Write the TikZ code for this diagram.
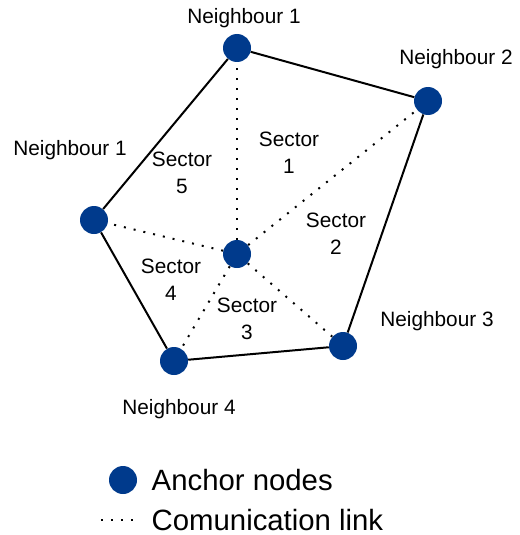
\documentclass[tikz,border=0pt]{standalone}
\usepackage{fontspec}
\setmainfont{Liberation Sans}
\definecolor{bluanodo}{HTML}{003A8C}
\tikzset{
    ancora/.style={circle,fill=bluanodo,minimum size=21pt,inner sep=0pt},
    etichetta/.style={font=\fontsize{15.6}{20}\selectfont,align=center},
    collegamento/.style={line width=1.5pt,dash pattern=on 1.5pt off 6pt},
    lato/.style={line width=1.5pt}
}
\begin{document}
\begin{tikzpicture}[x=0.75pt,y=-0.75pt]
        \useasboundingbox (0,0) rectangle (519,535);

        %%%%%%%%%% Nodi %%%%%%%%%%
        \node[ancora] (c) at (237,254) {};
        \node[ancora] (n1) at (237,48) {};
        \node[ancora] (n2) at (428,101) {};
        \node[ancora] (n3) at (343,346) {};
        \node[ancora] (n4) at (174,361) {};
        \node[ancora] (n5) at (94,220) {};

        %%%%%%%%% Etichette %%%%%%%%%
        \node[etichetta] (l1) at (244,18) {Neighbour 1};
        \node[etichetta] (l2) at (456,59) {Neighbour 2};
        \node[etichetta] (l3) at (437,321) {Neighbour 3};
        \node[etichetta] (l4) at (179,409) {Neighbour 4};
        \node[etichetta] (l5) at (70,150) {Neighbour 1};

        \node[etichetta] (s1) at (289,153) {Sector\\1};
        \node[etichetta] (s2) at (336,234) {Sector\\2};
        \node[etichetta] (s3) at (247,319) {Sector\\3};
        \node[etichetta] (s4) at (171,280) {Sector\\4};
        \node[etichetta] (s5) at (182,173) {Sector\\5};

        %%%%%%%%% Collegamenti %%%%%%%%%
        \foreach \n in {n1,n2,n3,n4,n5}
            \draw[collegamento] (c) -- (\n);

        \draw[lato] (n1) -- (n2) -- (n3) -- (n4) -- (n5) -- (n1);

        %%%%%%%%% Legenda %%%%%%%%%
        \node[ancora] (lega) at (123,480) {};
        \node[etichetta,font=\fontsize{22}{26}\selectfont,anchor=west] (legatxt) at (147,480) {Anchor nodes};
        \coordinate (legb1) at (101,520);
        \coordinate (legb2) at (140,520);
        \draw[collegamento] (legb1) -- (legb2);
        \node[etichetta,font=\fontsize{22}{26}\selectfont,anchor=west] (legbtxt) at (147,520) {Comunication link};
    \end{tikzpicture}
\end{document}
